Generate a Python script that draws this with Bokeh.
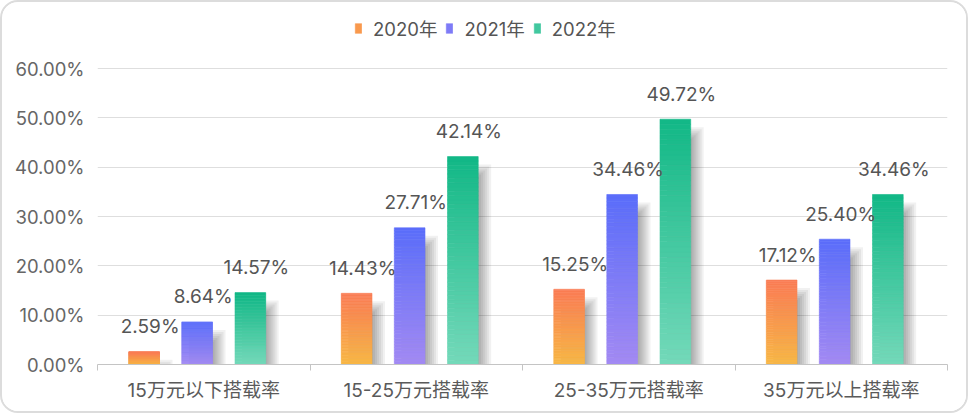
from bokeh.plotting import figure
from bokeh.models import (Range1d, FixedTicker, PrintfTickFormatter, Legend,
                          LegendItem, ColumnDataSource)
from bokeh.embed import file_html
from bokeh.resources import INLINE
from bokeh.core.properties import value

# ---------------- data ----------------
categories = ["15万元以下搭载率", "15-25万元搭载率", "25-35万元搭载率", "35万元以上搭载率"]
series_names = ["2020年", "2021年", "2022年"]
values_2020 = [2.59, 14.43, 15.25, 17.12]
values_2021 = [8.64, 27.71, 34.46, 25.40]
values_2022 = [14.57, 42.14, 49.72, 34.46]
y_ticks = [0, 10, 20, 30, 40, 50, 60]
series_values = [values_2020, values_2021, values_2022]

# ---------------- style / layout ----------------
BORDER = 2
W, H = 972 - 2 * BORDER, 417 - 2 * BORDER       # canvas size inside css border
FL, FR = 95, 945                                # frame left/right (canvas px)
Y60, Y0 = 66, 362                               # canvas y of 60% and 0%
FT = 10                                         # frame top (room for legend)
Y_MAX = 60
PX_X = (FR - FL) / len(categories)
PX_Y = (Y0 - Y60) / Y_MAX
Y_TOP = Y_MAX + (Y60 - FT) / PX_Y
FONT = "Inter, Noto Sans CJK SC"

# gradient colours (bottom, top)
grad = [
    ((0xF8, 0xB8, 0x45), (0xFA, 0x7C, 0x55)),
    ((0xA3, 0x8A, 0xF3), (0x5A, 0x6D, 0xFA)),
    ((0x74, 0xD9, 0xBA), (0x12, 0xB8, 0x86)),
]
offsets_px = [-59.6, -6.6, 46.6]
bar_w_px = 30.7
N_SLICES = 48
SH_OX, SH_OY = 7, 14


def hexcol(c):
    return "#%02x%02x%02x" % tuple(int(round(v)) for v in c)


def lerp(a, b, t):
    return tuple(a[k] + (b[k] - a[k]) * t for k in range(3))


p = figure(width=W, height=H, x_range=Range1d(0, len(categories)),
           y_range=Range1d(0, Y_TOP), output_backend="svg",
           toolbar_location=None, title=None,
           min_border_left=FL, min_border_right=W - FR,
           min_border_top=FT, min_border_bottom=H - Y0)
p.outline_line_color = None
p.background_fill_color = "white"
p.border_fill_color = "white"
p.styles = {"border": "%dpx solid #dcdcdc" % BORDER, "border-radius": "18px",
            "overflow": "hidden"}

# shadows
sh = dict(left=[], right=[], top=[], bottom=[])
for s, vals in enumerate(series_values):
    for i, v in enumerate(vals):
        c = i + 0.5 + offsets_px[s] / PX_X
        for e in range(-6, 7, 2):
            sh["left"].append(c + (-bar_w_px / 2 + SH_OX) / PX_X)
            sh["right"].append(c + (bar_w_px / 2 + SH_OX + e) / PX_X)
            sh["top"].append(max(v - (SH_OY - e) / PX_Y, 0))
            sh["bottom"].append(0)
p.quad(source=ColumnDataSource(sh), left="left", right="right", top="top",
       bottom="bottom", fill_color="black", fill_alpha=0.055, line_color=None)

# gradient bars
renderers = []
for s, vals in enumerate(series_values):
    d = dict(left=[], right=[], top=[], bottom=[], color=[])
    for i, v in enumerate(vals):
        c = i + 0.5 + offsets_px[s] / PX_X
        for j in range(N_SLICES):
            col = hexcol(lerp(grad[s][0], grad[s][1], (j + 0.5) / N_SLICES))
            d["left"].append(c - bar_w_px / 2 / PX_X)
            d["right"].append(c + bar_w_px / 2 / PX_X)
            d["bottom"].append(v * j / N_SLICES)
            d["top"].append(v * (j + 1) / N_SLICES)
            d["color"].append(col)
    r = p.quad(source=ColumnDataSource(d), left="left", right="right",
               top="top", bottom="bottom", fill_color="color",
               line_color="color", line_width=0.6)
    renderers.append(r)

# value labels
lab = dict(x=[], y=[], text=[])
for s, vals in enumerate(series_values):
    for i, v in enumerate(vals):
        lab["x"].append(i + 0.5 + offsets_px[s] / PX_X)
        lab["y"].append(v)
        lab["text"].append("%.2f%%" % v)
p.text(source=ColumnDataSource(lab), x="x", y="y", text="text",
       x_offset=6, y_offset=-25, text_align="center",
       text_baseline="alphabetic", text_font=value(FONT),
       text_font_size="19px", text_color="#555555")

# axes
xa = p.xaxis[0]
xa.ticker = FixedTicker(ticks=[i + 0.5 for i in range(len(categories))],
                        minor_ticks=list(range(len(categories) + 1)))
xa.major_label_overrides = {i + 0.5: c for i, c in enumerate(categories)}
xa.axis_line_color = "#c4c4c4"
xa.major_tick_line_color = None
xa.major_tick_in = 0
xa.major_tick_out = 0
xa.minor_tick_line_color = "#c4c4c4"
xa.minor_tick_in = 0
xa.minor_tick_out = 6
xa.major_label_standoff = 8
xa.major_label_text_font = FONT
xa.major_label_text_font_size = "19px"
xa.major_label_text_color = "#5a5a5a"

ya = p.yaxis[0]
ya.ticker = FixedTicker(ticks=y_ticks)
ya.formatter = PrintfTickFormatter(format="%.2f%%")
ya.axis_line_color = None
ya.major_tick_line_color = None
ya.minor_tick_line_color = None
ya.major_tick_in = 0
ya.major_tick_out = 0
ya.major_label_standoff = 13
ya.major_label_text_font = FONT
ya.major_label_text_font_size = "18.5px"
ya.major_label_text_color = "#666666"

p.xgrid.grid_line_color = None
p.ygrid.grid_line_color = "#dedede"

# legend
items = [LegendItem(label=n, renderers=[renderers[k]], index=N_SLICES // 2)
         for k, n in enumerate(series_names)]
legend = Legend(items=items, orientation="horizontal",
                location=(352 - FL, Y0 - 39),
                glyph_width=8, glyph_height=12, label_standoff=11, spacing=8,
                padding=0, margin=0, border_line_color=None,
                background_fill_alpha=0, label_text_font=FONT,
                label_text_font_size="18.5px", label_text_color="#555555",
                label_height=20)
p.add_layout(legend)

open("out.html", "w").write(file_html(p, INLINE, title="chart"))
